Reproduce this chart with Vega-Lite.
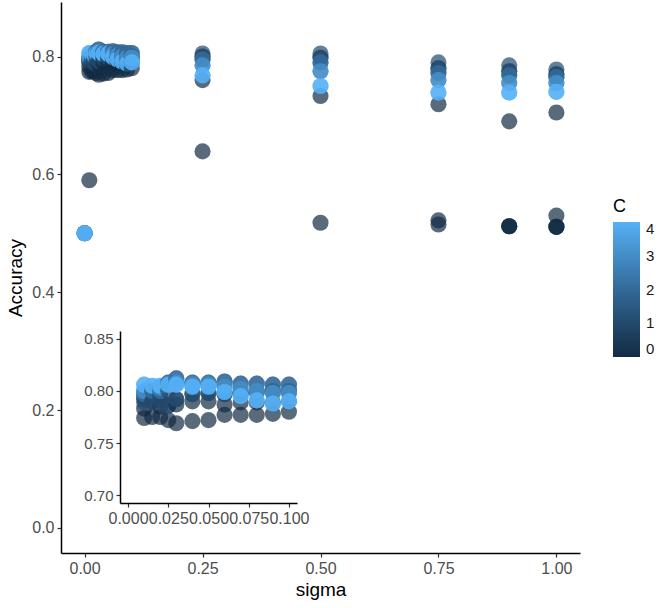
{
  "$schema": "https://vega.github.io/schema/vega-lite/v6.json",
  "autosize": "none",
  "width": 519,
  "height": 551,
  "padding": {"left": 61, "top": 2, "right": 84, "bottom": 55},
  "background": "white",
  "config": {
    "view": {"stroke": null},
    "font": "Liberation Sans",
    "axis": {
      "grid": false,
      "domainColor": "#000000",
      "domainWidth": 1.5,
      "tickColor": "#333333",
      "tickWidth": 1.2,
      "tickSize": 4,
      "labelColor": "#4D4D4D",
      "labelFontSize": 16,
      "labelPadding": 3,
      "labelFont": "Liberation Sans",
      "titleFont": "Liberation Sans",
      "titleFontSize": 19,
      "titleFontWeight": "normal",
      "titleColor": "#000000"
    }
  },
  "data": {
    "values": [
      {"sigma": 0, "C": 0, "Accuracy": 0.5},
      {"sigma": 0, "C": 1, "Accuracy": 0.5},
      {"sigma": 0, "C": 2, "Accuracy": 0.5},
      {"sigma": 0, "C": 3, "Accuracy": 0.5},
      {"sigma": 0, "C": 4, "Accuracy": 0.5},
      {"sigma": 0, "C": 4, "Accuracy": 0.5},
      {"sigma": 0.01, "C": 0, "Accuracy": 0.59},
      {"sigma": 0.01, "C": 0, "Accuracy": 0.774},
      {"sigma": 0.01, "C": 0, "Accuracy": 0.783},
      {"sigma": 0.01, "C": 1, "Accuracy": 0.789},
      {"sigma": 0.01, "C": 1, "Accuracy": 0.794},
      {"sigma": 0.01, "C": 1, "Accuracy": 0.792},
      {"sigma": 0.01, "C": 2, "Accuracy": 0.797},
      {"sigma": 0.01, "C": 2, "Accuracy": 0.797},
      {"sigma": 0.01, "C": 3, "Accuracy": 0.8},
      {"sigma": 0.01, "C": 3, "Accuracy": 0.8},
      {"sigma": 0.01, "C": 4, "Accuracy": 0.806},
      {"sigma": 0.01, "C": 4, "Accuracy": 0.806},
      {"sigma": 0.015, "C": 0, "Accuracy": 0.775},
      {"sigma": 0.015, "C": 1, "Accuracy": 0.79},
      {"sigma": 0.015, "C": 1, "Accuracy": 0.79},
      {"sigma": 0.015, "C": 2, "Accuracy": 0.8},
      {"sigma": 0.015, "C": 2, "Accuracy": 0.8},
      {"sigma": 0.015, "C": 4, "Accuracy": 0.805},
      {"sigma": 0.015, "C": 4, "Accuracy": 0.805},
      {"sigma": 0.02, "C": 0, "Accuracy": 0.775},
      {"sigma": 0.02, "C": 0, "Accuracy": 0.785},
      {"sigma": 0.02, "C": 1, "Accuracy": 0.788},
      {"sigma": 0.02, "C": 1, "Accuracy": 0.795},
      {"sigma": 0.02, "C": 1, "Accuracy": 0.791},
      {"sigma": 0.02, "C": 2, "Accuracy": 0.8},
      {"sigma": 0.02, "C": 2, "Accuracy": 0.8},
      {"sigma": 0.02, "C": 3, "Accuracy": 0.803},
      {"sigma": 0.02, "C": 3, "Accuracy": 0.803},
      {"sigma": 0.02, "C": 4, "Accuracy": 0.805},
      {"sigma": 0.02, "C": 4, "Accuracy": 0.805},
      {"sigma": 0.025, "C": 0, "Accuracy": 0.772},
      {"sigma": 0.025, "C": 1, "Accuracy": 0.786},
      {"sigma": 0.025, "C": 1, "Accuracy": 0.786},
      {"sigma": 0.025, "C": 1, "Accuracy": 0.8},
      {"sigma": 0.025, "C": 2, "Accuracy": 0.808},
      {"sigma": 0.025, "C": 2, "Accuracy": 0.808},
      {"sigma": 0.025, "C": 4, "Accuracy": 0.806},
      {"sigma": 0.025, "C": 4, "Accuracy": 0.806},
      {"sigma": 0.03, "C": 0, "Accuracy": 0.769},
      {"sigma": 0.03, "C": 0, "Accuracy": 0.787},
      {"sigma": 0.03, "C": 1, "Accuracy": 0.792},
      {"sigma": 0.03, "C": 1, "Accuracy": 0.792},
      {"sigma": 0.03, "C": 2, "Accuracy": 0.812},
      {"sigma": 0.03, "C": 2, "Accuracy": 0.812},
      {"sigma": 0.03, "C": 3, "Accuracy": 0.808},
      {"sigma": 0.03, "C": 3, "Accuracy": 0.808},
      {"sigma": 0.03, "C": 4, "Accuracy": 0.806},
      {"sigma": 0.03, "C": 4, "Accuracy": 0.806},
      {"sigma": 0.04, "C": 0, "Accuracy": 0.771},
      {"sigma": 0.04, "C": 0, "Accuracy": 0.79},
      {"sigma": 0.04, "C": 1, "Accuracy": 0.797},
      {"sigma": 0.04, "C": 1, "Accuracy": 0.797},
      {"sigma": 0.04, "C": 2, "Accuracy": 0.808},
      {"sigma": 0.04, "C": 2, "Accuracy": 0.808},
      {"sigma": 0.04, "C": 3, "Accuracy": 0.806},
      {"sigma": 0.04, "C": 3, "Accuracy": 0.806},
      {"sigma": 0.04, "C": 4, "Accuracy": 0.804},
      {"sigma": 0.04, "C": 4, "Accuracy": 0.804},
      {"sigma": 0.05, "C": 0, "Accuracy": 0.772},
      {"sigma": 0.05, "C": 0, "Accuracy": 0.79},
      {"sigma": 0.05, "C": 1, "Accuracy": 0.798},
      {"sigma": 0.05, "C": 1, "Accuracy": 0.798},
      {"sigma": 0.05, "C": 2, "Accuracy": 0.808},
      {"sigma": 0.05, "C": 2, "Accuracy": 0.808},
      {"sigma": 0.05, "C": 3, "Accuracy": 0.806},
      {"sigma": 0.05, "C": 3, "Accuracy": 0.806},
      {"sigma": 0.05, "C": 4, "Accuracy": 0.804},
      {"sigma": 0.05, "C": 4, "Accuracy": 0.804},
      {"sigma": 0.06, "C": 0, "Accuracy": 0.777},
      {"sigma": 0.06, "C": 0, "Accuracy": 0.787},
      {"sigma": 0.06, "C": 1, "Accuracy": 0.797},
      {"sigma": 0.06, "C": 1, "Accuracy": 0.797},
      {"sigma": 0.06, "C": 2, "Accuracy": 0.809},
      {"sigma": 0.06, "C": 2, "Accuracy": 0.809},
      {"sigma": 0.06, "C": 3, "Accuracy": 0.804},
      {"sigma": 0.06, "C": 3, "Accuracy": 0.804},
      {"sigma": 0.06, "C": 4, "Accuracy": 0.799},
      {"sigma": 0.06, "C": 4, "Accuracy": 0.799},
      {"sigma": 0.07, "C": 0, "Accuracy": 0.777},
      {"sigma": 0.07, "C": 0, "Accuracy": 0.789},
      {"sigma": 0.07, "C": 1, "Accuracy": 0.798},
      {"sigma": 0.07, "C": 1, "Accuracy": 0.798},
      {"sigma": 0.07, "C": 2, "Accuracy": 0.807},
      {"sigma": 0.07, "C": 2, "Accuracy": 0.807},
      {"sigma": 0.07, "C": 3, "Accuracy": 0.802},
      {"sigma": 0.07, "C": 3, "Accuracy": 0.802},
      {"sigma": 0.07, "C": 4, "Accuracy": 0.795},
      {"sigma": 0.07, "C": 4, "Accuracy": 0.795},
      {"sigma": 0.08, "C": 0, "Accuracy": 0.777},
      {"sigma": 0.08, "C": 0, "Accuracy": 0.789},
      {"sigma": 0.08, "C": 1, "Accuracy": 0.799},
      {"sigma": 0.08, "C": 1, "Accuracy": 0.799},
      {"sigma": 0.08, "C": 2, "Accuracy": 0.807},
      {"sigma": 0.08, "C": 2, "Accuracy": 0.807},
      {"sigma": 0.08, "C": 3, "Accuracy": 0.8},
      {"sigma": 0.08, "C": 3, "Accuracy": 0.8},
      {"sigma": 0.08, "C": 4, "Accuracy": 0.791},
      {"sigma": 0.08, "C": 4, "Accuracy": 0.791},
      {"sigma": 0.09, "C": 0, "Accuracy": 0.778},
      {"sigma": 0.09, "C": 0, "Accuracy": 0.789},
      {"sigma": 0.09, "C": 1, "Accuracy": 0.8},
      {"sigma": 0.09, "C": 1, "Accuracy": 0.8},
      {"sigma": 0.09, "C": 2, "Accuracy": 0.806},
      {"sigma": 0.09, "C": 2, "Accuracy": 0.806},
      {"sigma": 0.09, "C": 3, "Accuracy": 0.798},
      {"sigma": 0.09, "C": 3, "Accuracy": 0.798},
      {"sigma": 0.09, "C": 4, "Accuracy": 0.788},
      {"sigma": 0.09, "C": 4, "Accuracy": 0.788},
      {"sigma": 0.1, "C": 0, "Accuracy": 0.78},
      {"sigma": 0.1, "C": 0, "Accuracy": 0.79},
      {"sigma": 0.1, "C": 1, "Accuracy": 0.8},
      {"sigma": 0.1, "C": 1, "Accuracy": 0.8},
      {"sigma": 0.1, "C": 2, "Accuracy": 0.806},
      {"sigma": 0.1, "C": 2, "Accuracy": 0.806},
      {"sigma": 0.1, "C": 3, "Accuracy": 0.798},
      {"sigma": 0.1, "C": 3, "Accuracy": 0.798},
      {"sigma": 0.1, "C": 4, "Accuracy": 0.79},
      {"sigma": 0.1, "C": 4, "Accuracy": 0.79},
      {"sigma": 0.25, "C": 0, "Accuracy": 0.639},
      {"sigma": 0.25, "C": 0, "Accuracy": 0.76},
      {"sigma": 0.25, "C": 1, "Accuracy": 0.805},
      {"sigma": 0.25, "C": 1, "Accuracy": 0.8},
      {"sigma": 0.25, "C": 1, "Accuracy": 0.8},
      {"sigma": 0.25, "C": 2, "Accuracy": 0.795},
      {"sigma": 0.25, "C": 2, "Accuracy": 0.795},
      {"sigma": 0.25, "C": 3, "Accuracy": 0.785},
      {"sigma": 0.25, "C": 3, "Accuracy": 0.785},
      {"sigma": 0.25, "C": 4, "Accuracy": 0.768},
      {"sigma": 0.25, "C": 4, "Accuracy": 0.768},
      {"sigma": 0.5, "C": 0, "Accuracy": 0.518},
      {"sigma": 0.5, "C": 0, "Accuracy": 0.733},
      {"sigma": 0.5, "C": 1, "Accuracy": 0.805},
      {"sigma": 0.5, "C": 1, "Accuracy": 0.798},
      {"sigma": 0.5, "C": 1, "Accuracy": 0.798},
      {"sigma": 0.5, "C": 2, "Accuracy": 0.79},
      {"sigma": 0.5, "C": 2, "Accuracy": 0.79},
      {"sigma": 0.5, "C": 3, "Accuracy": 0.775},
      {"sigma": 0.5, "C": 3, "Accuracy": 0.775},
      {"sigma": 0.5, "C": 4, "Accuracy": 0.75},
      {"sigma": 0.5, "C": 4, "Accuracy": 0.75},
      {"sigma": 0.75, "C": 0, "Accuracy": 0.522},
      {"sigma": 0.75, "C": 0, "Accuracy": 0.515},
      {"sigma": 0.75, "C": 0, "Accuracy": 0.719},
      {"sigma": 0.75, "C": 1, "Accuracy": 0.79},
      {"sigma": 0.75, "C": 1, "Accuracy": 0.78},
      {"sigma": 0.75, "C": 1, "Accuracy": 0.78},
      {"sigma": 0.75, "C": 2, "Accuracy": 0.772},
      {"sigma": 0.75, "C": 2, "Accuracy": 0.772},
      {"sigma": 0.75, "C": 3, "Accuracy": 0.76},
      {"sigma": 0.75, "C": 3, "Accuracy": 0.76},
      {"sigma": 0.75, "C": 4, "Accuracy": 0.739},
      {"sigma": 0.75, "C": 4, "Accuracy": 0.739},
      {"sigma": 0.9, "C": 0, "Accuracy": 0.69},
      {"sigma": 0.9, "C": 0, "Accuracy": 0.512},
      {"sigma": 0.9, "C": 0, "Accuracy": 0.512},
      {"sigma": 0.9, "C": 0, "Accuracy": 0.512},
      {"sigma": 0.9, "C": 1, "Accuracy": 0.785},
      {"sigma": 0.9, "C": 1, "Accuracy": 0.775},
      {"sigma": 0.9, "C": 1, "Accuracy": 0.775},
      {"sigma": 0.9, "C": 2, "Accuracy": 0.768},
      {"sigma": 0.9, "C": 2, "Accuracy": 0.768},
      {"sigma": 0.9, "C": 3, "Accuracy": 0.755},
      {"sigma": 0.9, "C": 3, "Accuracy": 0.755},
      {"sigma": 0.9, "C": 4, "Accuracy": 0.739},
      {"sigma": 0.9, "C": 4, "Accuracy": 0.739},
      {"sigma": 1.0, "C": 0, "Accuracy": 0.705},
      {"sigma": 1.0, "C": 0, "Accuracy": 0.53},
      {"sigma": 1.0, "C": 0, "Accuracy": 0.511},
      {"sigma": 1.0, "C": 0, "Accuracy": 0.511},
      {"sigma": 1.0, "C": 0, "Accuracy": 0.511},
      {"sigma": 1.0, "C": 1, "Accuracy": 0.778},
      {"sigma": 1.0, "C": 1, "Accuracy": 0.77},
      {"sigma": 1.0, "C": 1, "Accuracy": 0.77},
      {"sigma": 1.0, "C": 2, "Accuracy": 0.765},
      {"sigma": 1.0, "C": 2, "Accuracy": 0.765},
      {"sigma": 1.0, "C": 3, "Accuracy": 0.755},
      {"sigma": 1.0, "C": 3, "Accuracy": 0.755},
      {"sigma": 1.0, "C": 4, "Accuracy": 0.74},
      {"sigma": 1.0, "C": 4, "Accuracy": 0.74}
    ]
  },
  "layer": [
    {
      "mark": {"type": "circle", "size": 260, "fillOpacity": 0.7},
      "encoding": {
        "x": {
          "field": "sigma", "type": "quantitative",
          "scale": {"domain": [-0.05, 1.05], "nice": false, "zero": false},
          "axis": {"title": "sigma", "values": [0, 0.25, 0.5, 0.75, 1], "format": ".2f", "titlePadding": 4}
        },
        "y": {
          "field": "Accuracy", "type": "quantitative",
          "scale": {"domain": [-0.0425, 0.8925], "nice": false, "zero": false},
          "axis": {"title": "Accuracy", "values": [0, 0.2, 0.4, 0.6, 0.8], "format": ".1f", "titlePadding": 6}
        },
        "color": {
          "field": "C", "type": "quantitative",
          "scale": {"domain": [0, 4], "range": ["#132B43", "#56B1F7"], "interpolate": "lab"},
          "legend": {
            "title": "C",
            "orient": "none",
            "legendX": 552,
            "legendY": 196,
            "direction": "vertical",
            "gradientLength": 135,
            "gradientThickness": 27,
            "values": [0, 1, 2, 3, 4],
            "titleFontSize": 18,
            "titleFontWeight": "normal",
            "titleColor": "#000000",
            "titleFont": "Liberation Sans",
            "labelFont": "Liberation Sans",
            "labelFontSize": 15,
            "labelColor": "#1A1A1A",
            "labelOffset": 6,
            "gradientStrokeWidth": 0,
            "titlePadding": 6
          }
        }
      }
    },
    {
      "transform": [{"filter": "datum.sigma > 0 && datum.sigma <= 0.1 && datum.Accuracy >= 0.7"}],
      "mark": {"type": "circle", "size": 260, "fillOpacity": 0.7},
      "encoding": {
        "x": {
          "field": "sigma", "type": "quantitative",
          "scale": {"domain": [-0.005, 0.105], "nice": false, "zero": false, "range": [59, 236]},
          "axis": {"title": null, "orient": "bottom", "offset": -50, "values": [0, 0.025, 0.05, 0.075, 0.1], "format": ".3f", "labelOverlap": false, "labelFontSize": 16}
        },
        "y": {
          "field": "Accuracy", "type": "quantitative",
          "scale": {"domain": [0.6925, 0.8575], "nice": false, "zero": false, "range": [501, 329]},
          "axis": {"title": null, "orient": "left", "offset": -59, "values": [0.7, 0.75, 0.8, 0.85], "format": ".2f", "labelFontSize": 15}
        },
        "color": {"field": "C", "type": "quantitative"}
      }
    }
  ],
  "resolve": {
    "scale": {"x": "independent", "y": "independent"},
    "axis": {"x": "independent", "y": "independent"}
  }
}
